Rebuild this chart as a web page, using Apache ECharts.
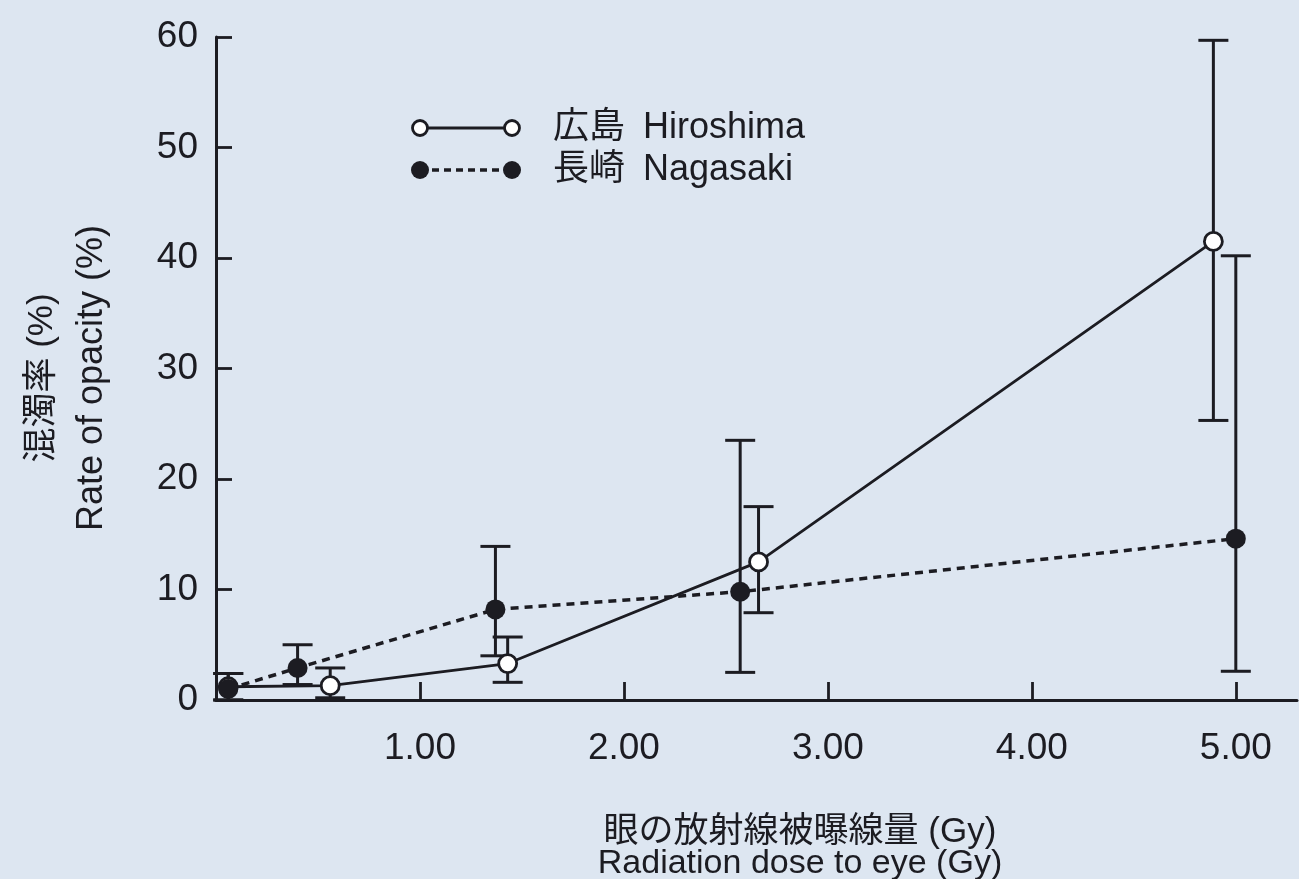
<!DOCTYPE html>
<html>
<head>
<meta charset="utf-8">
<script src="https://cdn.jsdelivr.net/npm/echarts@6/dist/echarts.min.js"></script>
<style>
  html, body { margin: 0; padding: 0; background: #dde6f1; }
  #chart { width: 1299px; height: 879px; }
</style>
</head>
<body>
<div id="chart"></div>
<script>
// Cataract opacity rate vs. eye radiation dose, atomic-bomb survivors
const xTicks = [1, 2, 3, 4, 5];

// Hiroshima: dose (Gy), opacity rate (%), lower/upper error bounds (%)
const hiroDose = [0.06, 0.56, 1.43, 2.66, 4.89];
const hiroRate = [1.2, 1.3, 3.3, 12.5, 41.5];
const hiroLow  = [0.0, 0.2, 1.6, 7.9, 25.3];
const hiroHigh = [2.4, 2.9, 5.7, 17.5, 59.7];

// Nagasaki
const nagaDose = [0.06, 0.40, 1.37, 2.57, 5.00];
const nagaRate = [1.0, 2.9, 8.2, 9.8, 14.6];
const nagaLow  = [0.0, 1.4, 4.0, 2.5, 2.6];
const nagaHigh = [2.4, 5.0, 13.9, 23.5, 40.2];

const INK = '#1c1c22';
const BG = '#dde6f1';
const FONT = '"Liberation Sans", Arial, "Noto Sans CJK JP", sans-serif';

const pairs = (xs, ys) => xs.map((x, i) => [x, ys[i]]);
const errRows = (xs, lo, hi) => xs.map((x, i) => [x, lo[i], hi[i]]);

function errorBar(params, api) {
  const x = api.value(0);
  const top = api.coord([x, api.value(2)]);
  const bot = api.coord([x, api.value(1)]);
  const w = 15;
  const st = { stroke: INK, lineWidth: 3 };
  return {
    type: 'group',
    children: [
      { type: 'line', shape: { x1: top[0], y1: top[1], x2: bot[0], y2: bot[1] }, style: st },
      { type: 'line', shape: { x1: top[0] - w, y1: top[1], x2: top[0] + w, y2: top[1] }, style: st },
      { type: 'line', shape: { x1: bot[0] - w, y1: bot[1], x2: bot[0] + w, y2: bot[1] }, style: st }
    ]
  };
}

const chart = echarts.init(document.getElementById('chart'), null, { renderer: 'canvas' });

// legend rows: sample line with end markers, then the label
function legendRow(y, filled, dashed, jp, en) {
  const marker = (cx) => ({
    type: 'circle', shape: { cx: cx, cy: y, r: filled ? 9 : 7.5 },
    style: filled ? { fill: INK } : { fill: '#ffffff', stroke: INK, lineWidth: 2.8 }, z: 10
  });
  return [
    { type: 'line', shape: { x1: 420, y1: y, x2: 512, y2: y },
      style: { stroke: INK, lineWidth: dashed ? 3.5 : 2.8, lineDash: dashed ? [7, 5] : null }, z: 9 },
    marker(420), marker(512),
    { type: 'text', x: 553, y: y, style: { text: jp, font: '36px ' + FONT, fill: INK, verticalAlign: 'middle' }, z: 10 },
    { type: 'text', x: 643, y: y, style: { text: en, font: '36px ' + FONT, fill: INK, verticalAlign: 'middle' }, z: 10 }
  ];
}

const option = {
  backgroundColor: BG,
  animation: false,
  grid: { left: 216, right: 2, top: 37, bottom: 179 },
  xAxis: {
    type: 'value', min: 0, max: 5.3, interval: 1,
    axisLine: { lineStyle: { color: INK, width: 3 } },
    axisTick: { inside: true, length: 18, lineStyle: { color: INK, width: 2.8 } },
    axisLabel: {
      color: INK, fontSize: 37, fontFamily: FONT, margin: 30,
      showMinLabel: false, showMaxLabel: false,
      formatter: v => (xTicks.indexOf(v) >= 0 ? v.toFixed(2) : '')
    },
    splitLine: { show: false }
  },
  yAxis: {
    type: 'value', min: 0, max: 60, interval: 10,
    axisLine: { show: true, lineStyle: { color: INK, width: 3 } },
    axisTick: { show: true, inside: true, length: 16, lineStyle: { color: INK, width: 2.8 } },
    axisLabel: { color: INK, fontSize: 37, fontFamily: FONT, margin: 18, padding: [0, 0, 14, 0] },
    splitLine: { show: false }
  },
  graphic: [
    ...legendRow(128, false, false, '広島', 'Hiroshima'),
    ...legendRow(170, true, true, '長崎', 'Nagasaki'),
    { type: 'text', x: 42, y: 378, rotation: Math.PI / 2,
      style: { text: '混濁率 (%)', font: '35px ' + FONT, fill: INK, align: 'center', verticalAlign: 'middle' } },
    { type: 'text', x: 92, y: 378, rotation: Math.PI / 2,
      style: { text: 'Rate of opacity (%)', font: '36px ' + FONT, fill: INK, align: 'center', verticalAlign: 'middle' } },
    { type: 'text', x: 800, y: 832,
      style: { text: '眼の放射線被曝線量 (Gy)', font: '35px ' + FONT, fill: INK, align: 'center', verticalAlign: 'middle' } },
    { type: 'text', x: 800, y: 864,
      style: { text: 'Radiation dose to eye (Gy)', font: '34px ' + FONT, fill: INK, align: 'center', verticalAlign: 'middle' } }
  ],
  series: [
    { type: 'custom', name: 'Hiroshima error', renderItem: errorBar,
      data: errRows(hiroDose, hiroLow, hiroHigh), z: 3, clip: false },
    { type: 'custom', name: 'Nagasaki error', renderItem: errorBar,
      data: errRows(nagaDose, nagaLow, nagaHigh), z: 3, clip: false },
    { type: 'line', name: '広島 Hiroshima', data: pairs(hiroDose, hiroRate),
      symbol: 'circle', symbolSize: 18,
      itemStyle: { color: '#ffffff', borderColor: INK, borderWidth: 2.8 },
      lineStyle: { color: INK, width: 2.8 }, z: 4 },
    { type: 'line', name: '長崎 Nagasaki', data: pairs(nagaDose, nagaRate),
      symbol: 'circle', symbolSize: 20,
      itemStyle: { color: INK },
      lineStyle: { color: INK, width: 3.5, type: [8, 6] }, z: 5 }
  ]
};

chart.setOption(option);
</script>
</body>
</html>
